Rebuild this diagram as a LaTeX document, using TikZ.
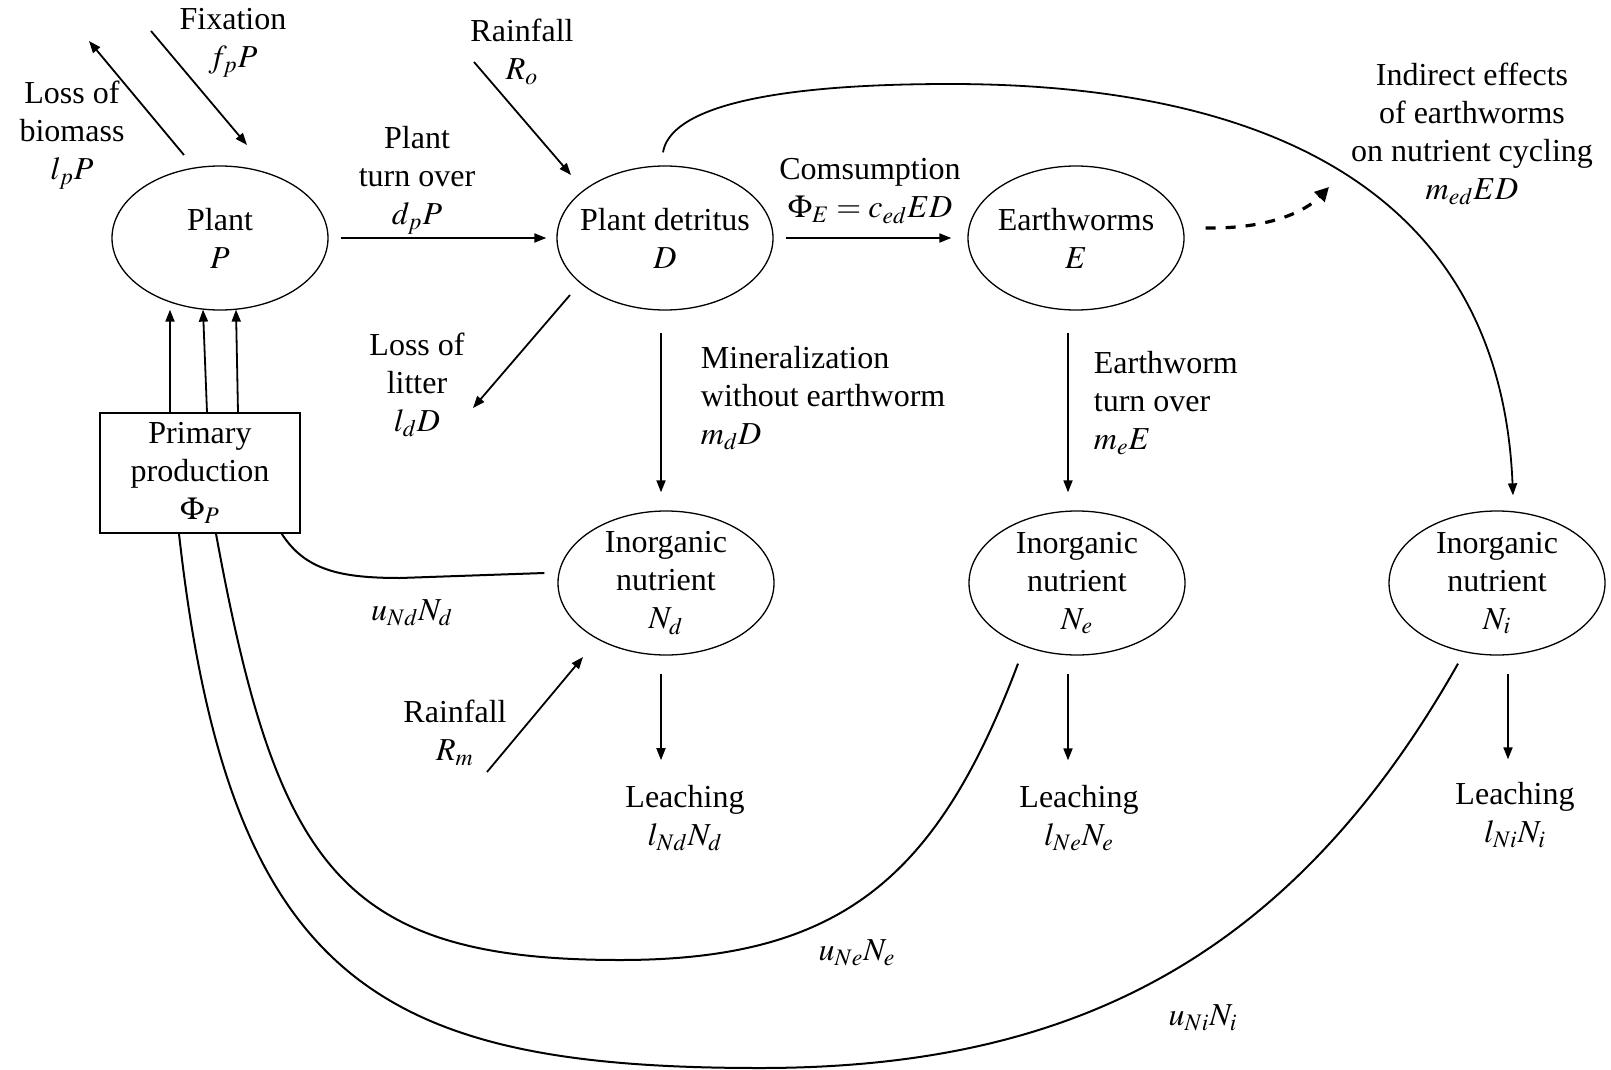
\documentclass[tikz,border=0pt]{standalone}
\usepackage{mathptmx}
\usepackage{fontspec}
\setmainfont{Liberation Serif}
\usetikzlibrary{arrows.meta, shapes.geometric, calc}

\begin{document}
\begin{tikzpicture}[x=0.5pt, y=-0.5pt, line width=0.9pt,
        font=\fontsize{16}{19}\selectfont,
        pool/.style={ellipse, draw, line width=0.65pt, align=center, inner sep=-8pt,
            minimum width=108pt, minimum height=72pt},
        lbl/.style={align=center, inner sep=1pt},
        flow/.style={-{Triangle[length=6pt, width=4.5pt]}},
        uptake/.style={line width=1pt}]
        \useasboundingbox (0,0) rectangle (1611,1070);

        % pools
        \node[pool] (plant) at (220,238) {Plant\\$P$};
        \node[pool] (detr) at (665,238) {Plant detritus\\$D$};
        \node[pool] (worm) at (1076,238) {Earthworms\\$E$};
        \node[pool] (Nd) at (666,583) {Inorganic\\nutrient\\$N_d$};
        \node[pool] (Ne) at (1077,583) {Inorganic\\nutrient\\$N_e$};
        \node[pool] (Ni) at (1497,583) {Inorganic\\nutrient\\$N_i$};
        \node[draw, line width=0.8pt, minimum width=100pt, minimum height=60pt, align=center,
            inner sep=0pt] (prod) at (200,473) {Primary\\production\\$\Phi_P$};

        % labels
        \node[lbl] (fix) at (233,43) {Fixation\\$f_pP$};
        \node[lbl] (lossb) at (72,135) {Loss of\\biomass\\$l_pP$};
        \node[lbl] (turn) at (417,180) {Plant\\turn over\\$d_pP$};
        \node[lbl] (rainD) at (522,52) {Rainfall\\$R_o$};
        \node[lbl] (cons) at (870,191) {Comsumption\\$\Phi_E=c_{ed}ED$};
        \node[lbl] (litter) at (417,385) {Loss of\\litter\\$l_dD$};
        \node[lbl, anchor=west, align=left] (miner) at (698,398) {Mineralization\\without earthworm\\$m_dD$};
        \node[lbl, anchor=west, align=left] (wturn) at (1091,403) {Earthworm\\turn over\\$m_eE$};
        \node[lbl] (indir) at (1472,134) {Indirect effects\\of earthworms\\on nutrient cycling\\$m_{ed}ED$};
        \node[lbl] (uNd) at (412,613) {$u_{Nd}N_d$};
        \node[lbl] (rainN) at (455,733) {Rainfall\\$R_m$};
        \node[lbl] (leachd) at (685,818) {Leaching\\$l_{Nd}N_d$};
        \node[lbl] (leache) at (1079,818) {Leaching\\$l_{Ne}N_e$};
        \node[lbl] (leachi) at (1515,815) {Leaching\\$l_{Ni}N_i$};
        \node[lbl] (uNe) at (857,953) {$u_{Ne}N_e$};
        \node[lbl] (uNi) at (1203,1018) {$u_{Ni}N_i$};

        % free ends of the outer fluxes
        \coordinate (fixs) at (151,31);
        \coordinate (fixe) at (247,145);
        \coordinate (lbs) at (184,155);
        \coordinate (lbe) at (89,41);
        \coordinate (rds) at (474,62);
        \coordinate (rde) at (571,175);
        \coordinate (lts) at (570,295);
        \coordinate (lte) at (473,408);
        \coordinate (rns) at (487,772);
        \coordinate (rne) at (583,657);
        \coordinate (hint) at (1329,187);

        % fluxes between pools
        \draw[flow, shorten <=6pt, shorten >=5pt] (plant) -- (detr);
        \draw[flow, shorten <=6pt, shorten >=8pt] (detr) -- (worm);
        \draw[flow, shorten <=11pt, shorten >=9pt] ([xshift=-2pt]detr.south) -- ([xshift=-2.5pt]Nd.north);
        \draw[flow, shorten <=11pt, shorten >=9pt] ([xshift=-4pt]worm.south) -- ([xshift=-4.5pt]Ne.north);
        \foreach \dx/\tx in {-30/-50, 7/-17, 38/16}
            \draw[flow] ($(prod.north)+(\dx,0)$) -- ($(plant.south)+(\tx,-1)$);

        % inputs and losses
        \draw[flow] (fixs) -- (fixe);
        \draw[flow] (lbs) -- (lbe);
        \draw[flow] (rds) -- (rde);
        \draw[flow] (lts) -- (lte);
        \draw[flow] (rns) -- (rne);

        % leaching
        \draw[flow, shorten <=9pt, shorten >=11pt] ([xshift=-2.5pt]Nd.south) -- ([xshift=-2.5pt]Nd.south |- leachd.north);
        \draw[flow, shorten <=9pt, shorten >=11pt] ([xshift=-4.5pt]Ne.south) -- ([xshift=-4.5pt]Ne.south |- leache.north);
        \draw[flow, shorten <=9pt, shorten >=10pt] ([xshift=5.5pt]Ni.south) -- ([xshift=5.5pt]Ni.south |- leachi.north);

        % indirect effect of earthworms
        \draw[flow] ($(detr.north)+(-2,-13)$) .. controls (670,110) and (760,84) .. (950,84)
            .. controls (1250,84) and (1500,180) .. ($(Ni.north)+(16,-15)$);
        \draw[-{Triangle[length=7pt, width=7pt]}, line width=1.6pt, dash pattern=on 5pt off 5pt]
            ($(worm.east)+(21,-10)$) .. controls (1268,229) and (1305,212) .. (hint);

        % nutrient uptake
        \draw[uptake] ($(prod.south east)+(-19,0)$) .. controls (305,570) and (340,578) .. (400,578)
            -- ($(Nd.west)+(-13,-10)$);
        \draw[uptake] ($(prod.south)+(16,0)$) .. controls (277,866) and (340,960) .. (620,960)
            .. controls (840,960) and (937,879) .. ($(Ne.south)+(-59,8)$);
        \draw[uptake] ($(prod.south)+(-21,0)$) .. controls (229,983) and (380,1068) .. (760,1068)
            .. controls (1060,1068) and (1286,968) .. ($(Ni.south)+(-39,8)$);
    \end{tikzpicture}
\end{document}
